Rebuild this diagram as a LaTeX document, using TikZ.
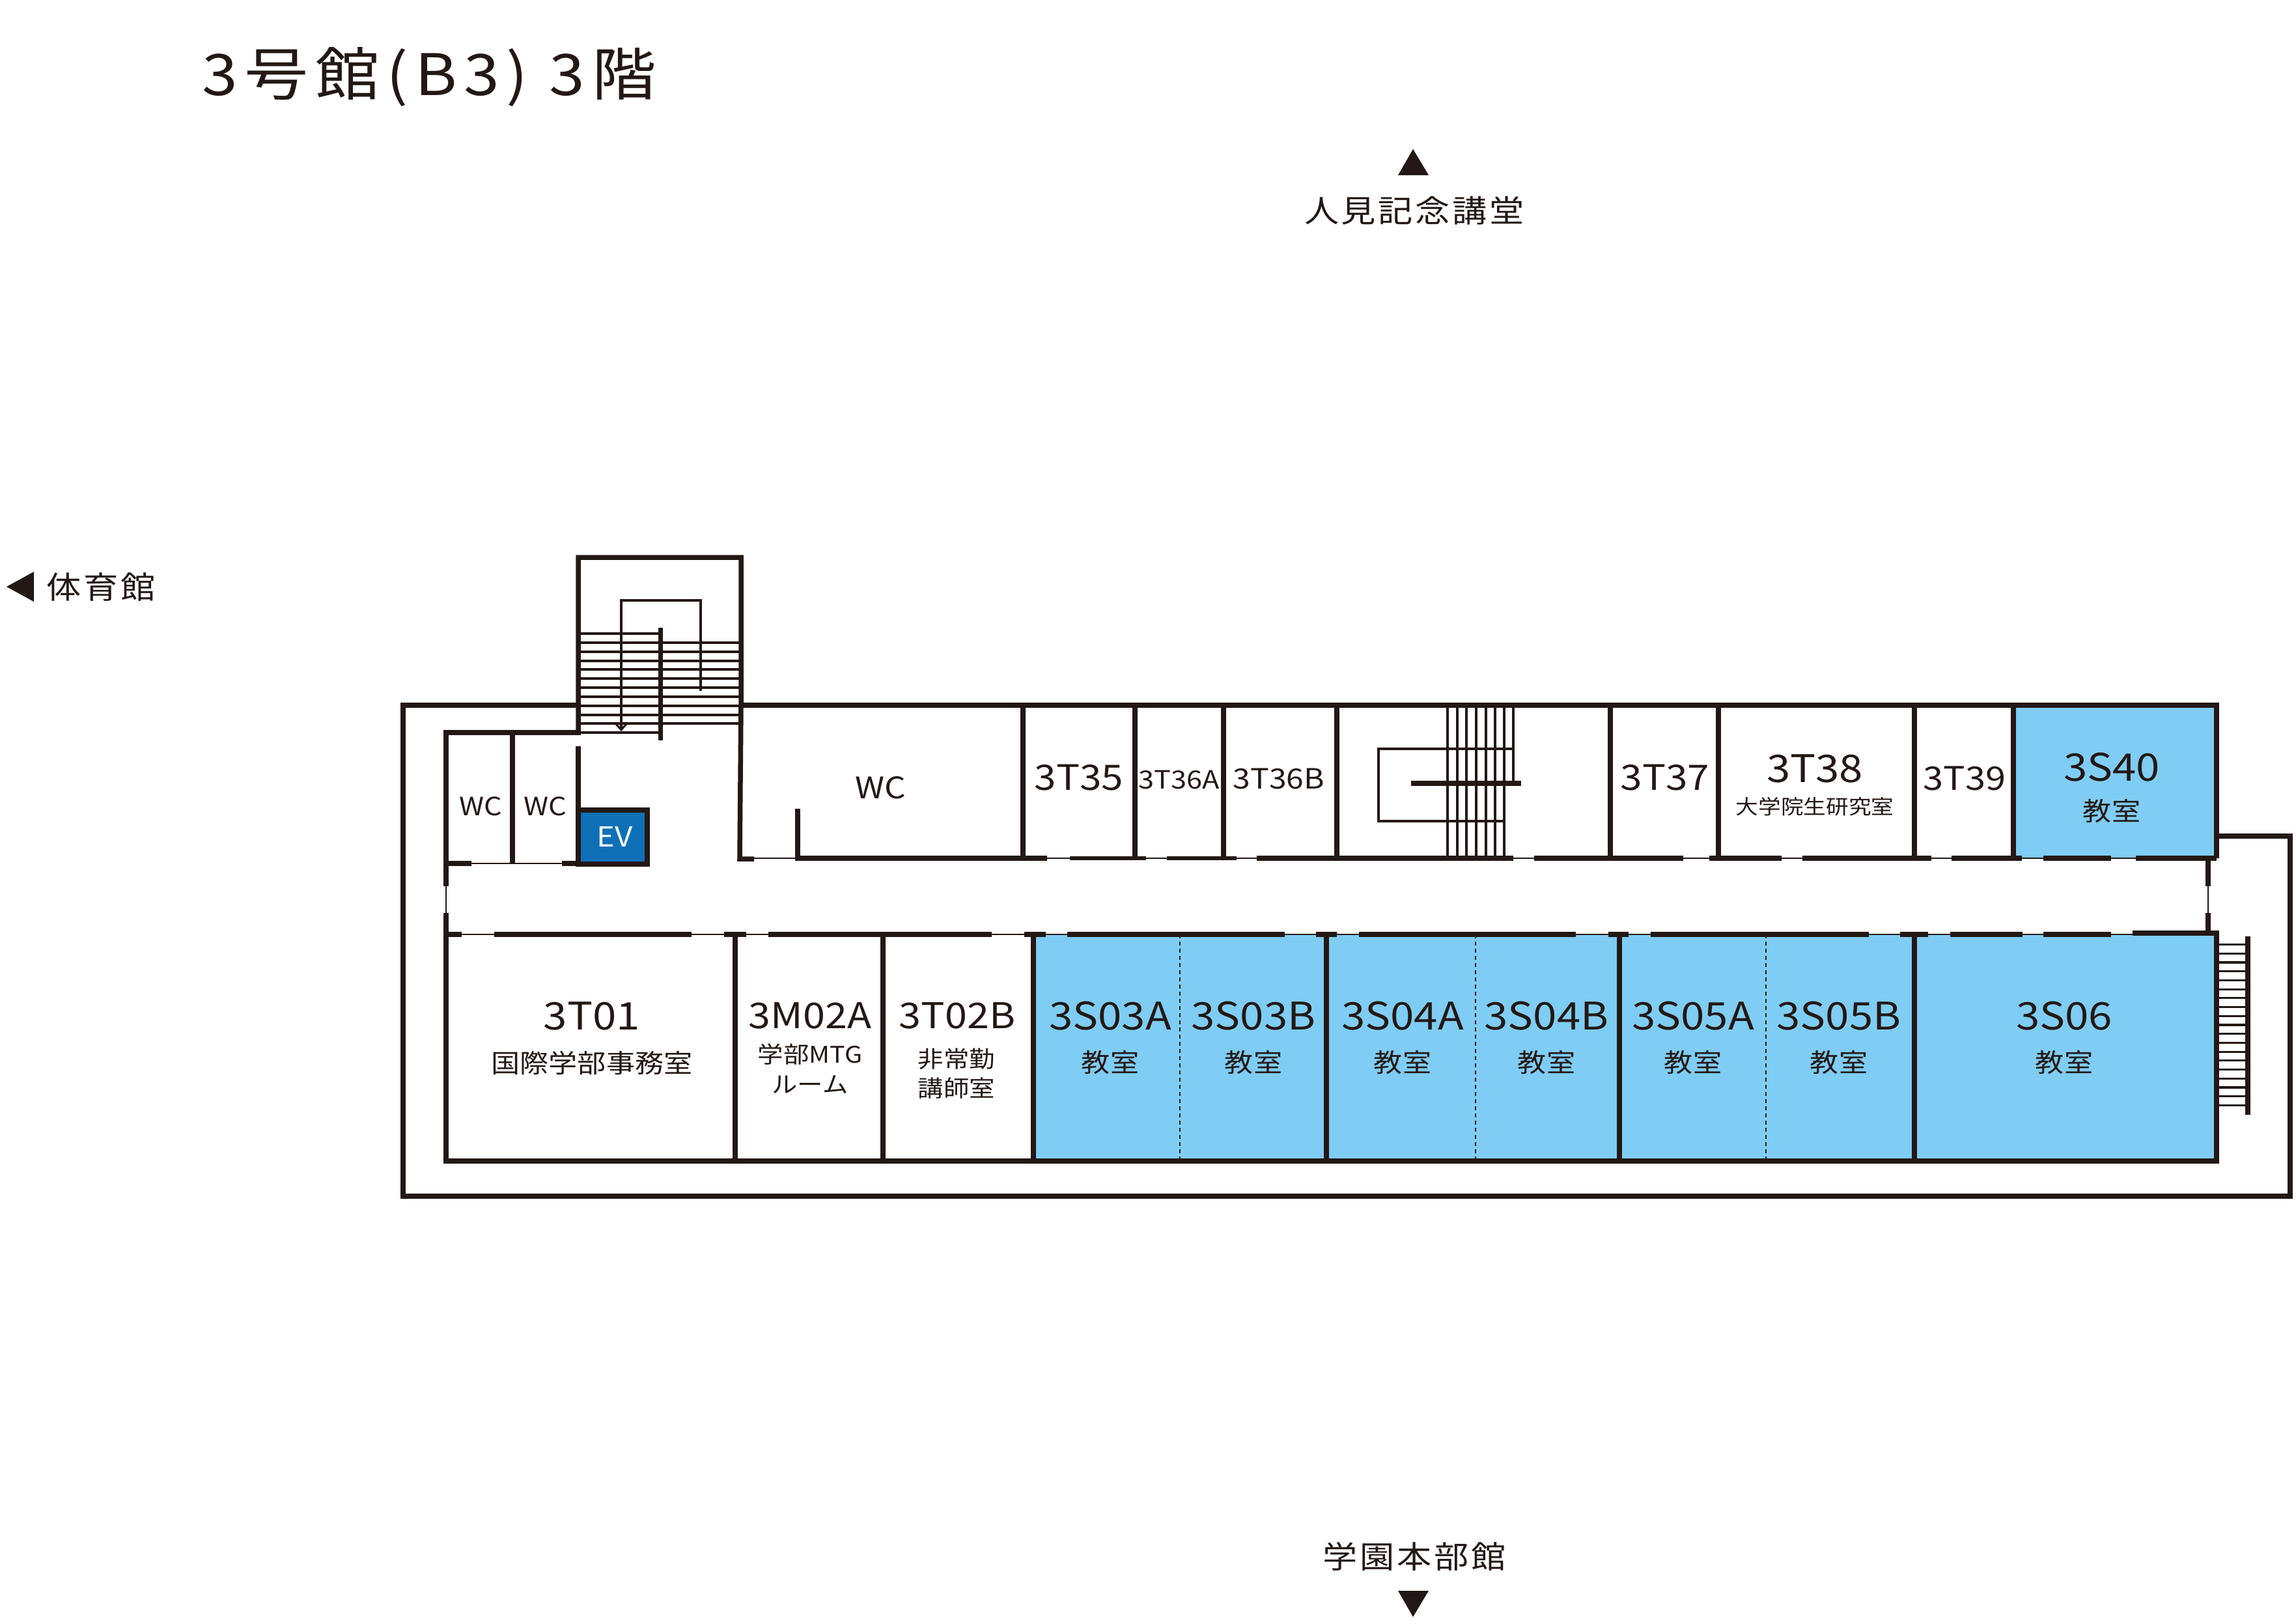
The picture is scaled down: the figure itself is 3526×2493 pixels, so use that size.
\documentclass[tikz,border=0pt]{standalone}
\usepackage{fontspec}
\setmainfont{Noto Sans CJK JP}[FakeStretch=1.12]
\usetikzlibrary{arrows.meta}
\definecolor{ink}{HTML}{231815}
\definecolor{classblue}{HTML}{7FCDF4}
\definecolor{evblue}{HTML}{0F70B7}
\tikzset{
    every node/.style={inner sep=0pt, text=ink},
    outerwall/.style={draw=ink, line width=0.088cm, line join=miter},
    wall/.style={draw=ink, line width=0.075cm},
    halfwall/.style={draw=ink, line width=0.055cm},
    thinwall/.style={draw=ink, line width=0.025cm},
    tread/.style={draw=ink, line width=0.032cm},
    fold/.style={draw=ink, line width=0.025cm, dash pattern=on 0.06cm off 0.05cm},
    roomno/.style={font=\fontsize{16.6}{18}\selectfont},
    roomnarrow/.style={font=\fontsize{15.5}{18}\selectfont},
    roomuse/.style={font=\fontsize{11.2}{13}\selectfont},
    roomsmall/.style={font=\fontsize{10}{11}\selectfont},
    landmark/.style={font=\fontsize{13.5}{15}\selectfont\addfontfeature{LetterSpace=8}}
}
\begin{document}
\begin{tikzpicture}[x=0.01cm, y=-0.01cm]
    \useasboundingbox (0,0) rectangle (3526,2493);

    % blue rooms
    \fill[classblue] (1587,1435) rectangle (3404,1783);
    \fill[classblue] (3092,1083) rectangle (3404,1317);

    % outer walls
    \draw[outerwall] (888,1083) -- (619,1083) -- (619,1837) -- (3517,1837) -- (3517,1284) -- (3404,1284);
    \draw[outerwall] (1138,1083) -- (3404,1083) -- (3404,1318);
    \draw[wall] (888,1128) -- (888,856) -- (1138,856) -- (1138,1083) -- (1136,1319) -- (1158,1319);
    \draw[wall] (685,1361) -- (685,1125) -- (892,1125);
    \draw[wall] (685,1402) -- (685,1783) -- (3404,1783) -- (3404,1433) -- (3275,1433);
    \draw[thinwall] (685,1361) -- (685,1402);
    \draw[wall] (3391,1317) -- (3391,1361);
    \draw[thinwall] (3391,1361) -- (3391,1402);
    \draw[wall] (3391,1402) -- (3391,1433);

    % corridor walls
    \draw[thinwall] (1136,1318) -- (3404,1318);
    \draw[thinwall] (685,1435) -- (3275,1435);
    \draw[thinwall] (685,1326) -- (888,1326);
    \foreach \a/\b in {689/724, 863/888}
        \draw[wall] (\a,1326) -- (\b,1326);
    \foreach \a/\b in {1221/1608, 1930/2324, 2356/2585, 2625/2736, 2768/2966, 2997/3105, 3138/3242, 3280/3404}
        \draw[wall] (\a,1318) -- (\b,1318);
    \foreach \a/\b in {1643/1760, 1792/1899}
        \draw[halfwall] (\a,1318) -- (\b,1318);
    \foreach \a/\b in {686/709, 759/1062, 1112/1146, 1180/1523, 1573/1606, 1639/1973, 2021/2053, 2087/2420, 2470/2501, 2535/2870, 2918/2961, 2995/3106, 3138/3242}
        \draw[wall] (\a,1435) -- (\b,1435);

    % partitions
    \foreach \x in {1571, 1743, 1879, 2053, 2473, 2639, 2940, 3092}
        \draw[wall] (\x,1083) -- (\x,1318);
    \foreach \x in {1129, 1356, 1587, 2037, 2487, 2940}
        \draw[wall] (\x,1435) -- (\x,1783);
    \foreach \x in {1812, 2266, 2712}
        \draw[fold] (\x,1435) -- (\x,1783);
    \draw[wall] (787,1125) -- (787,1326);
    \draw[wall] (888,1146) -- (888,1244);
    \draw[wall] (1225,1242) -- (1225,1319);

    % north stairs
    \foreach \y in {973, 987, 1001, 1015, 1028, 1042, 1056, 1070, 1084, 1098, 1111, 1125}
        \draw[tread] (888,\y) -- (1014,\y);
    \foreach \y in {987, 1001, 1015, 1028, 1042, 1056, 1070, 1084, 1098, 1111}
        \draw[tread] (1014,\y) -- (1137,\y);
    \draw[wall] (1014.5,964) -- (1014.5,1137);
    \draw[tread, -{Straight Barb[length=0.11cm, width=0.2cm]}] (1076,1061) -- (1076,922) -- (954,922) -- (954,1123);

    % middle stairs
    \foreach \x in {2223, 2238, 2252, 2267, 2282, 2296, 2310}
        \draw[tread] (\x,1083) -- (\x,1318);
    \draw[tread] (2324,1083) -- (2324,1203);
    \draw[tread] (2324,1150) -- (2117,1150) -- (2117,1261) -- (2310,1261);
    \draw[wall] (2167,1203) -- (2336,1203);

    % east stairs
    \foreach \n in {0,...,18}
        \draw[tread] (3404,{1450.5+\n*13.72}) -- (3452,{1450.5+\n*13.72});
    \draw[outerwall] (3452,1438) -- (3452,1712);

    % elevator
    \draw[outerwall, fill=evblue] (888,1244) rectangle (994,1327);
    \node[text=white, font=\fontsize{12}{14}\selectfont] (ev) at (944,1285) {EV};

    % north side rooms
    \node[font=\fontsize{11}{13}\selectfont] (wca) at (738,1238) {WC};
    \node[font=\fontsize{11}{13}\selectfont] (wcb) at (837,1238) {WC};
    \node[font=\fontsize{13}{15}\selectfont] (wcc) at (1352,1210) {WC};
    \node[font=\fontsize{15.3}{17}\selectfont] (r3t35) at (1657,1194) {3T35};
    \node[font=\fontsize{11}{13}\selectfont] (r3t36a) at (1811,1198) {3T36A};
    \node[font=\fontsize{12.2}{14}\selectfont] (r3t36b) at (1964,1196) {3T36B};
    \node[font=\fontsize{15.3}{17}\selectfont] (r3t37) at (2557,1194) {3T37};
    \node[roomno] (r3t38) at (2787,1180) {3T38};
    \node[font=\fontsize{8.8}{10}\selectfont] (u3t38) at (2787,1239) {大学院生研究室};
    \node[font=\fontsize{14.2}{16}\selectfont] (r3t39) at (3017,1196) {3T39};
    \node[roomno] (r3s40) at (3243,1178) {3S40};
    \node[roomuse] (u3s40) at (3243,1246) {教室};

    % south side rooms
    \node[roomno] (r3t01) at (909,1560) {3T01};
    \node[roomuse] (u3t01) at (909,1632) {国際学部事務室};
    \node[roomnarrow] (r3m02a) at (1244,1560) {3M02A};
    \node[roomsmall] (u3m02a) at (1244,1619) {学部MTG};
    \node[roomsmall] (v3m02a) at (1244,1666) {ルーム};
    \node[roomnarrow] (r3t02b) at (1470,1560) {3T02B};
    \node[roomsmall] (u3t02b) at (1469,1626) {非常勤};
    \node[roomsmall] (v3t02b) at (1469,1671) {講師室};
    \foreach \name/\x in {3S03A/1705, 3S03B/1925, 3S04A/2154, 3S04B/2375, 3S05A/2600, 3S05B/2824, 3S06/3170} {
        \node[roomno] (r\name) at (\x,1560) {\name};
        \node[roomuse] (u\name) at (\x,1632) {教室};
    }

    % title and directions
    \node[font=\fontsize{25}{28}\selectfont\addfontfeature{LetterSpace=12}] (title) at (659,118) {3号館(B3) 3階};
    \fill[ink] (2170,229) -- (2194,269) -- (2147,269) -- cycle;
    \node[landmark] (hitomi) at (2172,323) {人見記念講堂};
    \fill[ink] (10,901) -- (52,878) -- (52,924) -- cycle;
    \node[landmark] (gym) at (155,901) {体育館};
    \node[landmark] (honbu) at (2172,2390) {学園本部館};
    \fill[ink] (2170,2483) -- (2194,2443) -- (2147,2443) -- cycle;
\end{tikzpicture}
\end{document}
